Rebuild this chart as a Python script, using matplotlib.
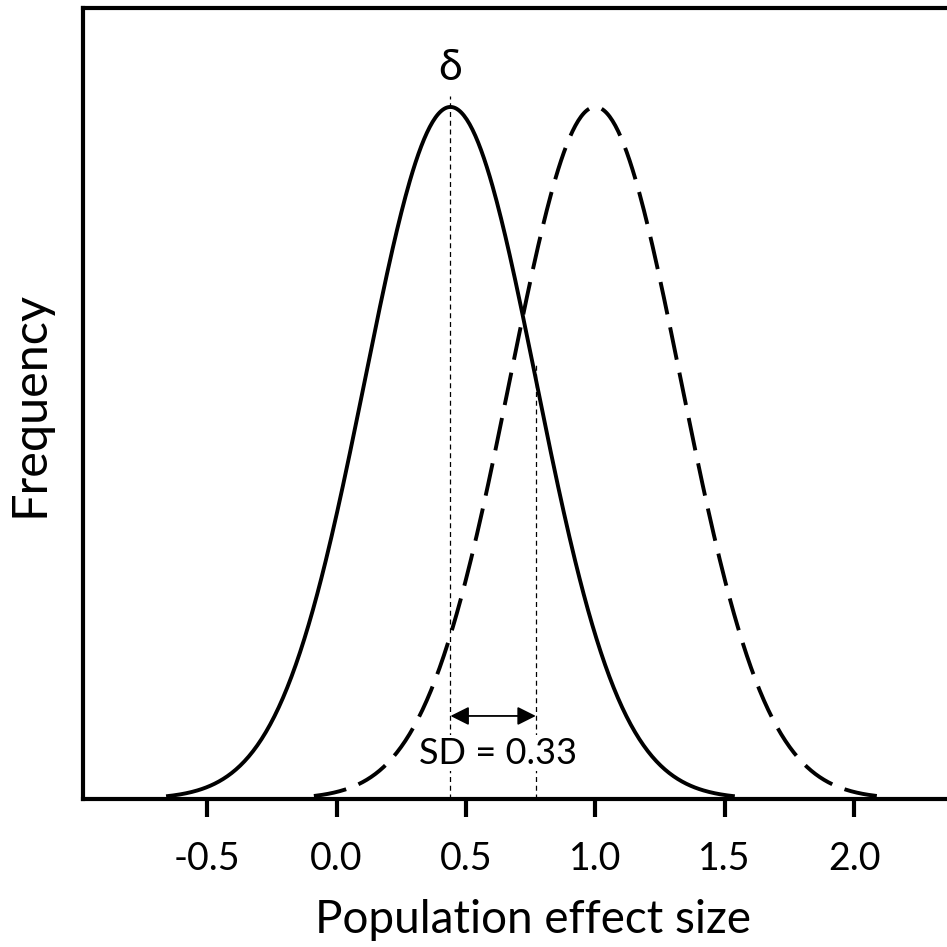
import numpy as np
import matplotlib
matplotlib.use("Agg")
import matplotlib.pyplot as plt

plt.rcParams["font.family"] = ["Lato", "DejaVu Sans"]

# values
delta = 0.44          # mean of the solid curve
shifted_mean = 1.0    # mean of the dashed curve
sd = 0.33
span_sd = 3.33        # curves drawn out to about +/- 3.33 SD
tick_values = [-0.5, 0.0, 0.5, 1.0, 1.5, 2.0]
tick_labels = ["-0.5", "0.0", "0.5", "1.0", "1.5", "2.0"]


def bell(mu, x):
    return np.exp(-0.5 * ((x - mu) / sd) ** 2)


fig = plt.figure(figsize=(9.47, 9.47), dpi=100)
# axes runs past the right edge of the picture, like the reference
ax = fig.add_axes([83 / 947, 148 / 947, 960 / 947, 791 / 947])

# solid curve
xs = np.linspace(delta - span_sd * sd, delta + span_sd * sd, 400)
ax.plot(xs, bell(delta, xs), color="black", lw=2.8, solid_capstyle="butt", zorder=4)

# dashed curve, drawn from the peak outwards so the dashes are symmetric
dash = (8.5, 3.4)
for side in (-1, 1):
    xh = np.linspace(shifted_mean, shifted_mean + side * span_sd * sd, 200)
    ax.plot(xh, bell(shifted_mean, xh), color="black", lw=2.8,
            linestyle=(dash[0] + dash[1] / 2, dash), dash_capstyle="butt", zorder=4)

# dotted guide lines
ax.plot([delta, delta], [0, 1.016], color="black", lw=0.9, linestyle=(0, (4, 3)), zorder=2)
ax.plot([delta + sd, delta + sd], [0, 0.63], color="black", lw=0.9, linestyle=(0, (4, 3)), zorder=2)

# SD arrow
ax.annotate("", xy=(delta, 0.12), xytext=(delta + sd, 0.12),
            arrowprops=dict(arrowstyle="<|-|>", color="black", lw=1.3,
                            mutation_scale=28, shrinkA=0, shrinkB=0), zorder=3)
ax.text(delta + sd / 2 + 0.02, 0.066, "SD = 0.33", fontsize=26, ha="center", va="center",
        bbox=dict(facecolor="white", edgecolor="none", pad=1), zorder=3)
ax.text(delta, 1.057, "δ", fontsize=31, ha="center", va="center", zorder=3)

ax.set_xlim(-0.98, 2.73)
ax.set_ylim(0, 1.143)
ax.set_yticks([])
ax.set_xticks(tick_values)
ax.set_xticklabels(tick_labels, fontsize=27)
ax.tick_params(axis="x", direction="out", length=13, width=3, pad=17)
for side in ("left", "bottom", "top"):
    ax.spines[side].set_linewidth(3)
ax.spines["right"].set_visible(False)

fig.text(533 / 947, 1 - 933 / 947, "Population effect size", fontsize=33,
         ha="center", va="baseline")
fig.text(30 / 947, 1 - 404 / 947, "Frequency", fontsize=35, rotation=90,
         ha="center", va="center")

fig.savefig("out.png", dpi=100)
